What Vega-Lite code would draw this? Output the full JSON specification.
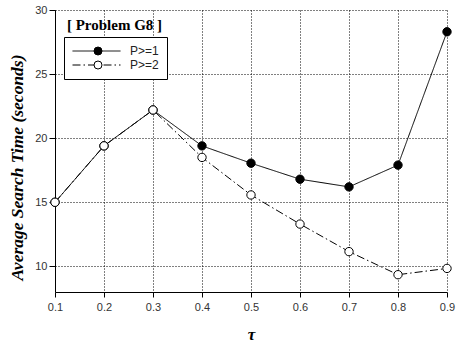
{
  "$schema": "https://vega.github.io/schema/vega-lite/v6.json",
  "width": 392,
  "height": 282,
  "autosize": {"type": "none"},
  "padding": {"left": 55, "top": 10, "right": 11, "bottom": 52},
  "background": "white",
  "config": {
    "view": {"stroke": null},
    "axis": {
      "grid": true,
      "gridColor": "black",
      "gridDash": [1, 2],
      "gridWidth": 1,
      "gridOpacity": 1,
      "domainColor": "black",
      "domainWidth": 1,
      "tickColor": "black",
      "labelFont": "Liberation Sans",
      "labelFontSize": 11,
      "labelColor": "#333",
      "labelFlush": false,
      "titleFont": "Liberation Serif",
      "titleFontStyle": "italic",
      "titleFontWeight": "bold",
      "titleColor": "black"
    }
  },
  "datasets": {
    "series": [
      {"tau": 0.1, "series": "P>=1", "time": 15.0},
      {"tau": 0.2, "series": "P>=1", "time": 19.4},
      {"tau": 0.3, "series": "P>=1", "time": 22.2},
      {"tau": 0.4, "series": "P>=1", "time": 19.4},
      {"tau": 0.5, "series": "P>=1", "time": 18.05},
      {"tau": 0.6, "series": "P>=1", "time": 16.8},
      {"tau": 0.7, "series": "P>=1", "time": 16.2},
      {"tau": 0.8, "series": "P>=1", "time": 17.9},
      {"tau": 0.9, "series": "P>=1", "time": 28.3},
      {"tau": 0.1, "series": "P>=2", "time": 15.0},
      {"tau": 0.2, "series": "P>=2", "time": 19.4},
      {"tau": 0.3, "series": "P>=2", "time": 22.2},
      {"tau": 0.4, "series": "P>=2", "time": 18.5},
      {"tau": 0.5, "series": "P>=2", "time": 15.57},
      {"tau": 0.6, "series": "P>=2", "time": 13.3},
      {"tau": 0.7, "series": "P>=2", "time": 11.15},
      {"tau": 0.8, "series": "P>=2", "time": 9.35},
      {"tau": 0.9, "series": "P>=2", "time": 9.84}
    ],
    "note": [
      {"label": "[ Problem G8 ]", "tau": 0.2214, "time": 28.83}
    ]
  },
  "layer": [
    {
      "data": {"name": "series"},
      "mark": {"type": "line", "color": "black", "strokeWidth": 1},
      "encoding": {
        "x": {
          "field": "tau",
          "type": "quantitative",
          "scale": {"domain": [0.1, 0.9], "nice": false, "zero": false},
          "axis": {
            "values": [0.1, 0.2, 0.3, 0.4, 0.5, 0.6, 0.7, 0.8, 0.9],
            "format": ".1f",
            "tickSize": 5,
            "labelPadding": 4,
            "title": "τ",
            "titleFontSize": 17,
            "titlePadding": 14
          }
        },
        "y": {
          "field": "time",
          "type": "quantitative",
          "scale": {"domain": [8, 30], "nice": false, "zero": false},
          "axis": {
            "values": [10, 15, 20, 25, 30],
            "tickSize": 6,
            "labelPadding": 2,
            "title": "Average Search Time (seconds)",
            "titleFontSize": 17.5,
            "titleX": -37.5,
            "titleY": 157,
            "titleAngle": 270,
            "titleAlign": "center",
            "titleBaseline": "middle"
          }
        },
        "strokeDash": {
          "field": "series",
          "type": "nominal",
          "scale": {"range": [[1, 0], [8, 3, 1.5, 3]]},
          "legend": {
            "orient": "none",
            "legendX": 9,
            "legendY": 27,
            "zindex": 1,
            "title": null,
            "strokeColor": "black",
            "fillColor": "white",
            "padding": 8,
            "symbolType": "stroke",
            "symbolSize": 2304,
            "symbolStrokeColor": "black",
            "symbolStrokeWidth": 1,
            "clipHeight": 12,
            "labelFont": "Liberation Sans",
            "labelFontSize": 12,
            "labelColor": "#222",
            "labelOffset": 9,
            "rowPadding": 2
          }
        }
      }
    },
    {
      "data": {"name": "series"},
      "mark": {"type": "point", "filled": true, "size": 70, "stroke": "black", "strokeWidth": 1, "opacity": 1},
      "encoding": {
        "x": {"field": "tau", "type": "quantitative"},
        "y": {"field": "time", "type": "quantitative"},
        "fill": {
          "field": "series",
          "type": "nominal",
          "scale": {"domain": ["P>=1", "P>=2"], "range": ["black", "white"]},
          "legend": {
            "orient": "none",
            "legendX": 29,
            "legendY": 27,
            "zindex": 2,
            "title": null,
            "padding": 8,
            "symbolType": "circle",
            "symbolSize": 64,
            "symbolStrokeColor": "black",
            "symbolStrokeWidth": 1,
            "symbolOpacity": 1,
            "clipHeight": 12,
            "labelFont": "Liberation Sans",
            "labelFontSize": 12,
            "labelExpr": "''",
            "labelOffset": 29,
            "rowPadding": 2
          }
        }
      }
    },
    {
      "data": {"name": "note"},
      "mark": {"type": "text", "font": "Liberation Serif", "fontWeight": "bold", "fontSize": 15, "align": "center", "baseline": "middle", "color": "black"},
      "encoding": {
        "x": {"field": "tau", "type": "quantitative"},
        "y": {"field": "time", "type": "quantitative"},
        "text": {"field": "label"}
      }
    }
  ]
}
